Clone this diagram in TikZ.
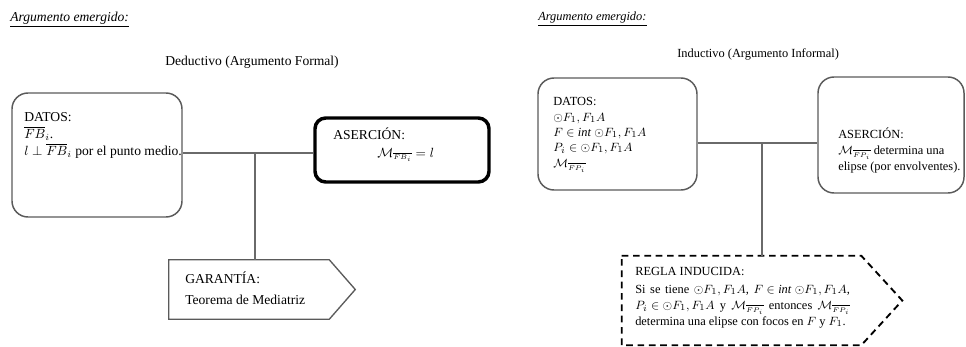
\documentclass[tikz,border=0pt]{standalone}
\usepackage{fontspec}
\setmainfont{Liberation Serif}
\usetikzlibrary{calc}
\definecolor{boxgray}{HTML}{5A5A5A}
\definecolor{linegray}{HTML}{6A6A6A}

% circle symbol used as an ordinary prefix, not as a binary operator
\newcommand{\circsym}{\mathord{\odot}}
% segment-indexed curve with a compact overlined subscript
\newcommand{\curveM}[1]{\mathcal{M}_{\scriptscriptstyle\overline{#1}}}
% one justified line of a given width: words separated by \hfill
\newcommand{\jline}[1]{\makebox[161pt][l]{#1}}

\tikzset{
  softbox/.style={draw=boxgray, line width=1.1pt, rounded corners=12pt, inner sep=0pt},
  strongbox/.style={draw=black, line width=2.6pt, rounded corners=8pt, inner sep=0pt},
  frame/.style={draw=none, inner sep=0pt},
  plainedge/.style={draw=boxgray, line width=1.0pt, line join=miter},
  dashededge/.style={draw=black, line width=1.4pt, dash pattern=on 5pt off 3.5pt},
  conn/.style={draw=linegray, line width=1.0pt},
  txt/.style={anchor=base west, inner sep=0pt},
  fl/.style={font=\fontsize{10.2}{12}\selectfont},
  fr/.style={font=\fontsize{9.3}{11}\selectfont},
}

\begin{document}
\begin{tikzpicture}[x=0.75pt,y=-0.75pt]
\useasboundingbox (0,0) rectangle (966,346);

% ---------- deductive argument ----------
\node[txt,fl] (headL) at (10,22) {\textit{\underline{Argumento emergido:}}};
\node[txt,fl] (titleL) at (165,65) {Deductivo (Argumento Formal)};

\node[softbox, minimum width=127.5pt, minimum height=93pt] (datosL) at (97,155) {};
\node[txt,fl] (datosL1) at (24,121) {DATOS:};
\node[txt,fl] (datosL2) at (24,138) {$\overline{FB}_i$.};
\node[txt,fl] (datosL3) at (24,155) {$l\perp\overline{FB}_i$ por el punto medio.};

\node[strongbox, minimum width=130.5pt, minimum height=48pt] (asercL) at (402,150) {};
\node[txt,fl] (asercL1) at (333,139) {ASERCIÓN:};
\node[txt,fl] (asercL2) at (377,157) {$\curveM{FB_i}=l$};

\node[frame, minimum width=120pt, minimum height=44.25pt] (garL) at (249,289.5) {};
\draw[plainedge] (garL.north west) -- (garL.north east) -- ($(garL.east)+(26,0)$)
  -- (garL.south east) -- (garL.south west) -- cycle;
\node[txt,fl] (garL1) at (185,283) {GARANTÍA:};
\node[txt,fl] (garL2) at (185,304) {Teorema de Mediatriz};

\coordinate (jL) at (255,153);
\draw[conn] (datosL.east |- jL) -- (asercL.west |- jL);
\draw[conn] (jL) -- (jL |- garL.north);

% ---------- inductive argument ----------
\node[txt,fr] (headR) at (538,21) {\textit{\underline{Argumento emergido:}}};
\node[txt,fr] (titleR) at (677,58) {Inductivo (Argumento Informal)};

\node[softbox, minimum width=119.25pt, minimum height=84pt] (datosR) at (617.5,134) {};
\node[txt,fr] (datosR1) at (553,105) {DATOS:};
\node[txt,fr] (datosR2) at (553,121) {$\circsym F_1, F_1A$};
\node[txt,fr] (datosR3) at (553,136) {$F\in \mathit{int}\;\circsym F_1, F_1A$};
\node[txt,fr] (datosR4) at (553,151) {$P_i\in \circsym F_1, F_1A$};
\node[txt,fr] (datosR5) at (553,167) {$\curveM{FP_i}$};

\node[softbox, minimum width=109.5pt, minimum height=87pt] (asercR) at (891,135) {};
\node[txt,fr] (asercR1) at (838,138) {ASERCIÓN:};
\node[txt,fr] (asercR2) at (838,154) {$\curveM{FP_i}$ determina una};
\node[txt,fr] (asercR3) at (838,170) {elipse (por envolventes).};

\node[frame, minimum width=179.25pt, minimum height=66.75pt] (reglaR) at (741.5,300.5) {};
\draw[dashededge] (reglaR.north west) -- (reglaR.north east) -- ($(reglaR.east)+(41,0)$)
  -- (reglaR.south east) -- (reglaR.south west) -- cycle;
\node[txt,fr] (reglaR1) at (635,275) {REGLA INDUCIDA:};
\node[txt,fr] (reglaR2) at (635,293) {\jline{Si\hfill se\hfill tiene\hfill $\circsym F_1, F_1A$,\hfill $F\in \mathit{int}\;\circsym F_1, F_1A$,}};
\node[txt,fr] (reglaR3) at (635,309) {\jline{$P_i\in\circsym F_1, F_1A$\hfill y\hfill $\curveM{FP_i}$\hfill entonces\hfill $\curveM{FP_i}$}};
\node[txt,fr] (reglaR4) at (635,325) {determina una elipse con focos en $F$ y $F_1$.};

\coordinate (jR) at (762,143);
\draw[conn] (datosR.east |- jR) -- (asercR.west |- jR);
\draw[conn] (jR) -- (jR |- reglaR.north);
\end{tikzpicture}
\end{document}
